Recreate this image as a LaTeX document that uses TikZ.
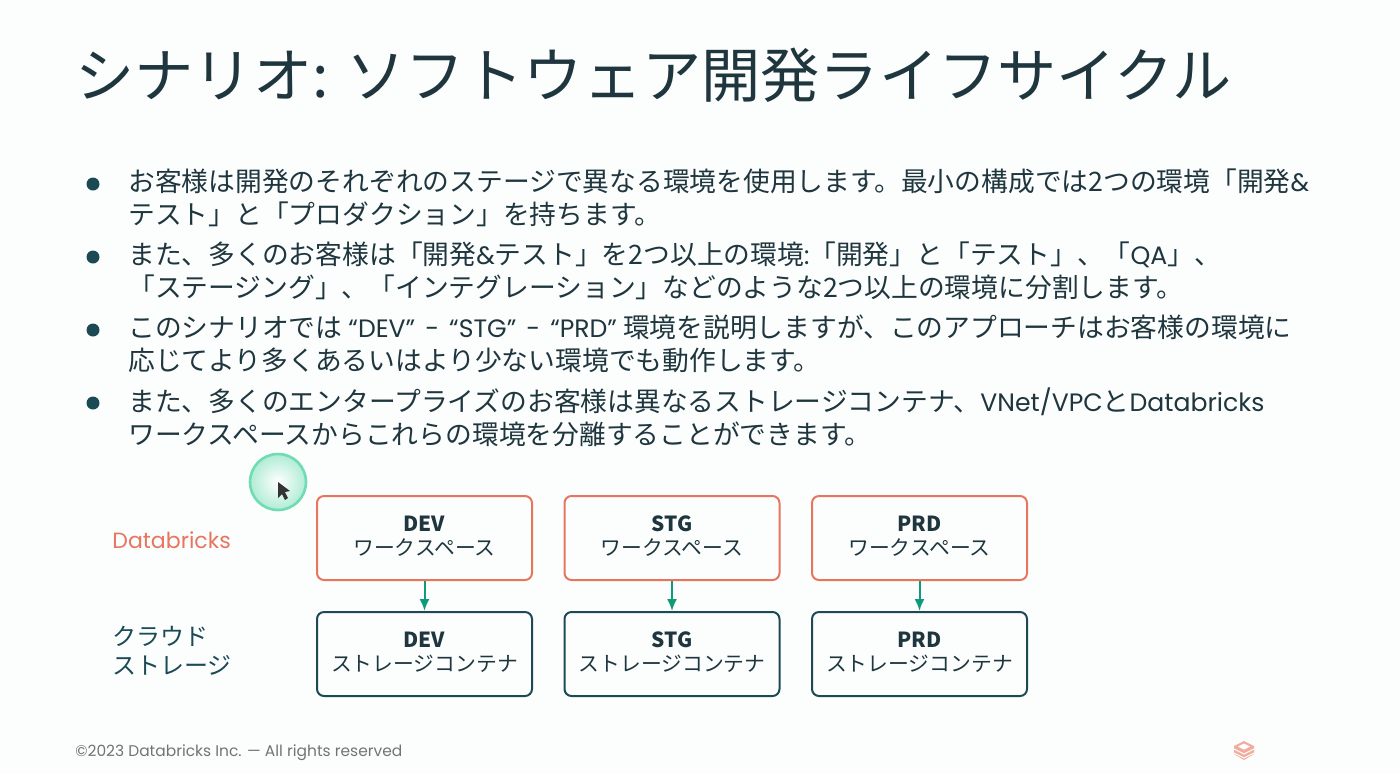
\documentclass[tikz,border=0pt]{standalone}
\usepackage{fontspec}
\usepackage{xcolor}
\setmainfont{Noto Sans CJK JP}
\newfontfamily\latinfont[Scale=0.92]{Poppins}
\newfontfamily\bodylatin[Scale=0.94]{Poppins}
\usetikzlibrary{arrows.meta}
\definecolor{inkdark}{HTML}{1F363E}
\definecolor{tealdark}{HTML}{1B4A55}
\definecolor{orangeline}{HTML}{E8755E}
\definecolor{greenline}{HTML}{0E9A7B}
\definecolor{ringgreen}{HTML}{6FDCB4}
\tikzset{
	titletext/.style={anchor=base west,inner sep=0pt,text=inkdark,font=\fontsize{29.6}{34}\selectfont},
	bodytext/.style={anchor=north west,inner sep=0pt,align=left,text=inkdark,font=\fontsize{13.38}{16.5}\selectfont},
	bulletdot/.style={circle,fill=tealdark,inner sep=0pt,minimum size=6.5pt},
	rowlabel/.style={anchor=west,inner sep=0pt,align=left,font=\fontsize{12}{14.5}\selectfont},
	boxlabel/.style={minimum width=107.5pt,minimum height=42pt,inner sep=0pt,align=center,rounded corners=3.5pt,line width=1pt,text=inkdark,font=\fontsize{10.4}{12}\selectfont,execute at end node={\rule[-2.5pt]{0pt}{2.5pt}}},
	workbox/.style={boxlabel,draw=orangeline},
	storebox/.style={boxlabel,draw=tealdark},
	linkarrow/.style={draw=greenline,line width=1pt,-{Latex[length=6pt,width=5pt]}}
}
\begin{document}
\begin{tikzpicture}[x=0.5pt,y=-0.5pt]
	\useasboundingbox (0,0) rectangle (1400,773);
	\fill[white!99!teal] (0,0) rectangle (1400,773);
	% title
	\node[titletext] (title) at (75,97) {シナリオ: ソフトウェア開発ライフサイクル};
	% bullets
	\node[bulletdot] (dota) at (93,184) {};
	\node[bulletdot] (dotb) at (93,257) {};
	\node[bulletdot] (dotc) at (93,330) {};
	\node[bulletdot] (dotd) at (93,403) {};
	\node[bodytext] (itema) at (128,168) {お客様は開発のそれぞれのステージで異なる環境を使用します。最小の構成では2つの環境「開発{\bodylatin\&}\\テスト」と「プロダクション」を持ちます。};
	\node[bodytext] (itemb) at (128,241) {また、多くのお客様は「開発{\bodylatin\&}テスト」を2つ以上の環境{\bodylatin:}「開発」と「テスト」、「{\bodylatin QA}」、\\「ステージング」、「インテグレーション」などのような2つ以上の環境に分割します。};
	\node[bodytext] (itemc) at (128,314) {このシナリオでは {\bodylatin\spaceskip=0.4em “DEV” - “STG” - “PRD”} 環境を説明しますが、このアプローチはお客様の環境に\\応じてより多くあるいはより少ない環境でも動作します。};
	\node[bodytext] (itemd) at (128,387) {また、多くのエンタープライズのお客様は異なるストレージコンテナ、{\bodylatin VNet/VPC}と{\bodylatin Databricks}\\ワークスペースからこれらの環境を分離することができます。};
	% row labels
	\node[rowlabel,text=orangeline] (rowdb) at (112,540) {\latinfont Databricks};
	\node[rowlabel,text=tealdark] (rowcloud) at (112,651) {クラウド\\ストレージ};
	% boxes
	\node[workbox] (devwork) at (424.5,538) {\textbf{DEV}\\ワークスペース};
	\node[workbox] (stgwork) at (672,538) {\textbf{STG}\\ワークスペース};
	\node[workbox] (prdwork) at (919.5,538) {\textbf{PRD}\\ワークスペース};
	\node[storebox] (devstore) at (424.5,654) {\textbf{DEV}\\ストレージコンテナ};
	\node[storebox] (stgstore) at (672,654) {\textbf{STG}\\ストレージコンテナ};
	\node[storebox] (prdstore) at (919.5,654) {\textbf{PRD}\\ストレージコンテナ};
	\draw[linkarrow] (devwork) -- (devstore);
	\draw[linkarrow] (stgwork) -- (stgstore);
	\draw[linkarrow] (prdwork) -- (prdstore);
	% pointer highlight
	\shade[inner color=white,middle color=white,outer color=ringgreen!55] (278,482) circle (28);
	\draw[ringgreen,line width=1.3pt] (278,482) circle (28);
	\fill[black!80] (278,482) -- (278,498) -- (282,494) -- (285,500) -- (288,498) -- (285,492) -- (290,491) -- cycle;
	% footer
	\node[anchor=base west,inner sep=0pt,text=black!55,font=\fontsize{8.4}{10}\selectfont] (footer) at (75,756) {\latinfont ©2023 Databricks Inc. — All rights reserved};
	\fill[orangeline!60] (1244,741) -- (1254,746) -- (1254,754) -- (1244,760) -- (1234,754) -- (1234,746) -- cycle;
	\draw[white,line width=0.5pt] (1234,749) -- (1244,754) -- (1254,749) (1234,753) -- (1244,758) -- (1254,753);
	\fill[white] (1244,743.5) -- (1250,746.5) -- (1244,749.5) -- (1238,746.5) -- cycle;
\end{tikzpicture}
\end{document}
